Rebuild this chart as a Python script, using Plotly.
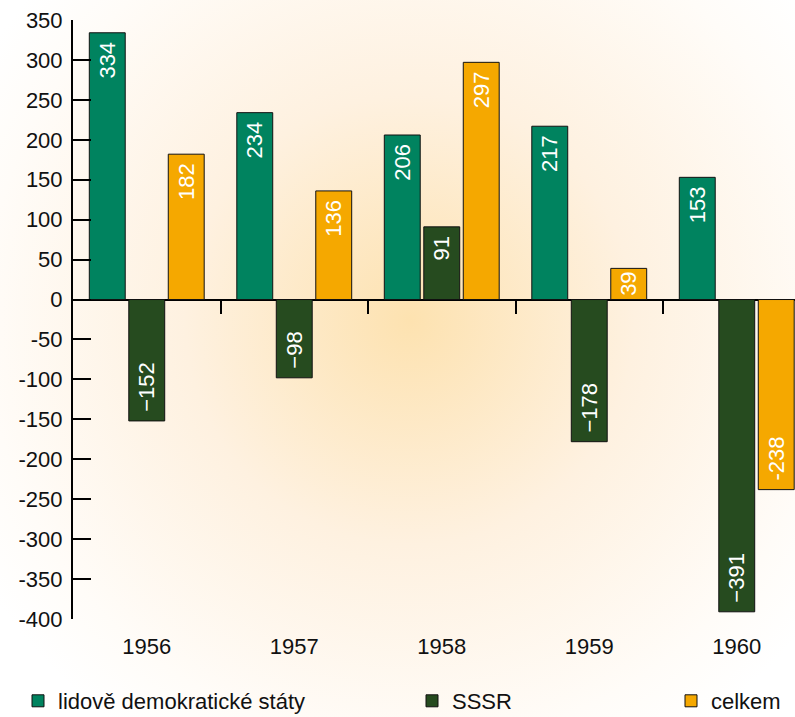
import base64
import plotly.graph_objects as go

years = [1956, 1957, 1958, 1959, 1960]
lidove = [334, 234, 206, 217, 153]
sssr = [-152, -98, 91, -178, -391]
celkem = [182, 136, 297, 39, -238]
lidove_txt = ["334", "234", "206", "217", "153"]
sssr_txt = ["\u2212152", "\u221298", "91", "\u2212178", "\u2212391"]
celkem_txt = ["182", "136", "297", "39", "-238"]
names = ["lidově demokratické státy", "SSSR", "celkem"]
colors = ["#00835F", "#264B1F", "#F5A800"]
ytickvals = list(range(-400, 351, 50))
yticktext = [str(v) for v in ytickvals]
boundaries = [1956.5, 1957.5, 1958.5, 1959.5]

W, H = 795, 717
ML, MR, MT, MB = 73, 0, 20, 98
PW, PH = W - ML - MR, H - MT - MB

FONT = "Liberation Sans, Arial, sans-serif"

svg = (
    f'<svg xmlns="http://www.w3.org/2000/svg" width="{W}" height="{H}">'
    '<defs><radialGradient id="g" cx="410" cy="320" r="500" gradientUnits="userSpaceOnUse">'
    '<stop offset="0" stop-color="#FDE2B0"/><stop offset="0.45" stop-color="#FEF1E0"/>'
    '<stop offset="0.85" stop-color="#FFFCF8"/><stop offset="1" stop-color="#FFFFFF"/>'
    '</radialGradient></defs>'
    f'<rect width="{W}" height="{H}" fill="url(#g)"/></svg>'
)
bg_uri = "data:image/svg+xml;base64," + base64.b64encode(svg.encode()).decode()


def pad(labels, vals):
    # small inset from the bar end (only on bars long enough), like the reference
    out = []
    for t, v in zip(labels, vals):
        if abs(v) < 60:
            out.append(t)
        elif v < 0:
            out.append("\u00a0" + t)
        else:
            out.append(t + "\u00a0")
    return out


fig = go.Figure()
series = [lidove, sssr, celkem]
texts = [lidove_txt, sssr_txt, celkem_txt]
legends = ["legend", "legend2", "legend3"]
for vals, txt, nm, col, lg in zip(series, texts, names, colors, legends):
    fig.add_trace(go.Bar(
        x=years, y=vals, name=nm, text=pad(txt, vals),
        marker=dict(color=col, line=dict(color="#111111", width=1)),
        textposition="inside", insidetextanchor="end", textangle=-90,
        textfont=dict(color="white", size=22, family=FONT),
        constraintext="none", cliponaxis=False,
        legend=lg, xaxis="x", yaxis="y",
    ))

xr = [1955.5, 1955.5 + PW / 147.5]

leg_y = (H - MB - 701) / PH
leg_common = dict(orientation="h", yanchor="middle", xanchor="left", y=leg_y,
                  font=dict(size=22, family=FONT, color="#111111"),
                  bgcolor="rgba(0,0,0,0)")
fig.update_layout(
    width=W, height=H,
    margin=dict(l=ML, r=MR, t=MT, b=MB, autoexpand=False),
    paper_bgcolor="white", plot_bgcolor="rgba(0,0,0,0)",
    barmode="group", bargap=0.197, bargroupgap=0.09,
    font=dict(family=FONT, size=22, color="#111111"),
    legend=dict(x=(12 + 6 - ML) / PW, **leg_common),
    legend2=dict(x=(418 - 6 - ML) / PW, **leg_common),
    legend3=dict(x=(673 - 2 - ML) / PW, **leg_common),
    images=[dict(source=bg_uri, xref="paper", yref="paper",
                 x=-ML / PW, y=1 + MT / PH, sizex=W / PW, sizey=H / PH,
                 xanchor="left", yanchor="top", sizing="stretch", layer="below")],
    yaxis=dict(range=[-400, 350], tickvals=ytickvals, ticktext=yticktext,
               showline=True, linecolor="black", linewidth=2,
               ticks="inside", ticklen=18, tickwidth=2, tickcolor="black",
               ticklabelstandoff=4,
               zeroline=True, zerolinecolor="black", zerolinewidth=2,
               showgrid=False, tickfont=dict(size=22, family=FONT, color="#111111"),
               automargin=False),
    xaxis=dict(range=xr, tickmode="array", tickvals=boundaries,
               showticklabels=False, ticks="outside", ticklen=13, tickwidth=2,
               tickcolor="black", showline=False, showgrid=False, zeroline=False,
               anchor="free", position=400 / 750, automargin=False),
    xaxis2=dict(range=xr, overlaying="x", anchor="y", side="bottom",
                tickmode="array", tickvals=years, ticktext=[str(y) for y in years],
                ticks="", showline=False, showgrid=False, zeroline=False,
                ticklabelstandoff=12,
                tickfont=dict(size=22, family=FONT, color="#111111"),
                automargin=False),
)
fig.add_trace(go.Scatter(x=years, y=[None] * 5, xaxis="x2", yaxis="y",
                         showlegend=False, hoverinfo="skip"))
fig.write_html("out.html", config={"displayModeBar": False},
               post_script="document.body.style.margin='0';document.body.style.overflow='hidden';")
